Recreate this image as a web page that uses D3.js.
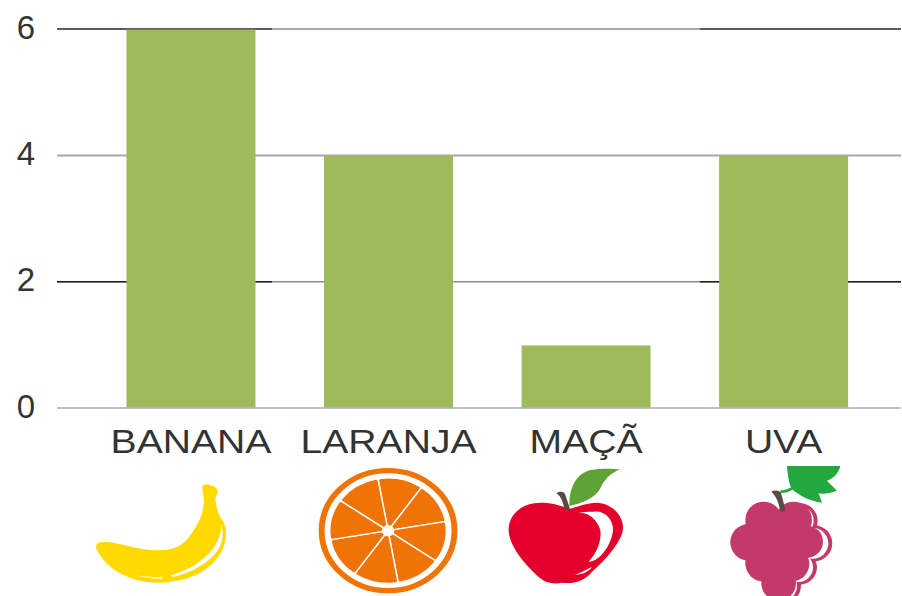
<!DOCTYPE html>
<html>
<head>
<meta charset="utf-8">
<script src="https://cdn.jsdelivr.net/npm/d3@7"></script>
<style>
html, body { margin: 0; padding: 0; background: #fff; }
svg { display: block; }
text { font-family: "Liberation Sans", sans-serif; fill: #333; }
</style>
</head>
<body>
<script>
var categories = ["BANANA", "LARANJA", "MAÇÃ", "UVA"];
var values = [6, 4, 1, 4];
var yTicks = [0, 2, 4, 6];
// ticks whose gridline prints darker at the two ends of the plot
var darkTicks = [2, 6];

var width = 902, height = 596;

var svg = d3.select("body").append("svg")
    .attr("width", width)
    .attr("height", height);

var x = d3.scaleBand()
    .domain(categories)
    .range([92.2, 882.4])
    .paddingInner(0.347)
    .paddingOuter(0.1735);

var y = d3.scaleLinear()
    .domain([0, 6])
    .range([407.6, 28.6]);

// y axis, the tick lines double as gridlines
var yAxis = svg.append("g")
    .attr("transform", "translate(57,0)")
    .call(d3.axisLeft(y).tickValues(yTicks).tickFormat(d3.format("d")).tickSize(-844).tickPadding(22));
yAxis.select(".domain").remove();
yAxis.selectAll("line")
    .attr("stroke", function (d) {
        if (d === 0) return "#c0c0c0";
        return d === 2 ? "#8c8c8c" : "#a8a8a8";
    })
    .attr("stroke-width", function (d) { return d === 2 ? 1.5 : 2; });
yAxis.selectAll("text")
    .attr("font-size", 33)
    .attr("font-family", "Liberation Sans")
    .attr("fill", "#333")
    .attr("dy", "0.29em");

// darker stretches of the gridlines
[[57, 272], [700, 901]].forEach(function (span) {
    svg.selectAll(null)
        .data(darkTicks)
        .enter().append("line")
        .attr("x1", span[0])
        .attr("x2", span[1])
        .attr("y1", function (d) { return y(d) + 0.5; })
        .attr("y2", function (d) { return y(d) + 0.5; })
        .attr("stroke", function (d) { return d === 2 ? "#1e1e1e" : "#5c5c5c"; })
        .attr("stroke-width", function (d) { return d === 2 ? 1.5 : 2; });
});

// bars
svg.selectAll(".bar")
    .data(values)
    .enter().append("rect")
    .attr("class", "bar")
    .attr("x", function (d, i) { return x(categories[i]); })
    .attr("y", function (d) { return y(d) + 1; })
    .attr("width", x.bandwidth())
    .attr("height", function (d) { return y(0) - y(d) - 1; })
    .attr("fill", "#9dbb5a");

// category labels, the picture is stretched sideways
svg.selectAll(".cat")
    .data(categories)
    .enter().append("text")
    .attr("class", "cat")
    .attr("text-anchor", "middle")
    .attr("font-size", 33)
    .attr("transform", function (d) {
        return "translate(" + (x(d) + x.bandwidth() / 2) + ",453) scale(1.185,1)";
    })
    .text(function (d) { return d; });

// fruit icons are traced in crop pixels at 3x, so each group is scaled down
function icon(name, dx) {
    return svg.append("g")
        .attr("transform", "translate(" + (x(name) + x.bandwidth() / 2 + dx) + ",460) scale(0.3333)");
}

// banana
var banana = icon("BANANA", -110.5);
banana.append("path")
    .attr("fill", "#ffd900")
    .attr("d", "M365,78 C375,68 405,76 411,90 C413,105 403,108 405,120 C408,140 412,155 418,170 C432,185 440,205 435,240 C425,300 360,365 240,368 C150,370 80,330 48,268 C42,250 55,245 75,246 C120,248 170,270 230,271 C280,272 310,255 330,225 C350,195 365,175 370,130 C372,110 365,95 365,78 Z");
banana.append("path")
    .attr("fill", "#fff")
    .attr("d", "M422,190 C426,240 385,312 272,346 L276,351 C350,335 415,290 425,240 C428,220 426,200 422,190 Z M165,345 C190,351 220,351 245,351 L245,356 C220,357 190,354 165,345 Z");

// orange, wider than it is tall like the rest of the picture
var orange = icon("LARANJA", -308.1).append("g")
    .attr("transform", "translate(923,212) scale(1.107,1)");
orange.append("circle")
    .attr("r", 180)
    .attr("fill", "none")
    .attr("stroke", "#f07306")
    .attr("stroke-width", 16);
var slices = d3.range(8);
var sliceArc = d3.arc()
    .innerRadius(0)
    .outerRadius(158)
    .cornerRadius(6);
orange.append("g")
    .selectAll("path")
    .data(slices)
    .enter().append("path")
    .attr("fill", "#f07306")
    .attr("stroke", "#fff")
    .attr("stroke-width", 4)
    .attr("d", function (i) {
        var a0 = (-10 + i * 45) * Math.PI / 180;
        return sliceArc({ startAngle: a0, endAngle: a0 + Math.PI / 4 });
    });
orange.append("circle")
    .attr("r", 17)
    .attr("fill", "#fff");

// apple
var apple = icon("MAÇÃ", -95.7);
apple.append("path")
    .attr("fill", "#e4002b")
    .attr("d", "M235,148 C200,130 150,122 110,135 C70,150 52,185 55,215 C60,265 110,320 150,355 C170,372 195,372 215,368 C250,372 280,365 305,335 C345,300 400,240 398,200 C395,160 360,130 320,128 C290,128 260,140 235,148 Z");
apple.append("path")
    .attr("fill", "#fff")
    .attr("d", "M262,160 C295,155 320,180 330,210 C335,245 315,285 295,305 C330,305 365,250 368,210 C368,175 340,150 310,155 C290,155 275,155 262,160 Z M250,345 C270,342 285,328 305,322 C295,335 275,345 250,345 Z");
apple.append("path")
    .attr("fill", "#5a4a42")
    .attr("d", "M198,100 C210,92 222,95 225,105 C230,120 235,135 240,150 L222,148 C218,125 212,110 198,100 Z");
apple.append("path")
    .attr("fill", "#5fa236")
    .attr("d", "M237,130 C238,80 260,40 300,30 C330,25 365,25 390,28 C360,40 340,60 330,85 C315,115 275,130 237,138 Z");

// grapes
var grape = icon("UVA", -293.3);
var grapeColor = "#c33a6a";
var backLumps = [[930, 182, 52], [972, 250, 54], [928, 322, 52], [880, 378, 52]];
var frontLumps = [[820, 180, 55], [910, 180, 55], [775, 247, 55], [870, 240, 90], [950, 245, 48], [820, 310, 55], [905, 312, 52], [865, 370, 52]];
grape.selectAll(".back")
    .data(backLumps)
    .enter().append("circle")
    .attr("cx", function (d) { return d[0]; })
    .attr("cy", function (d) { return d[1]; })
    .attr("r", function (d) { return d[2]; })
    .attr("fill", grapeColor);
grape.selectAll(".gap")
    .data(backLumps)
    .enter().append("circle")
    .attr("cx", function (d) { return d[0] - 4; })
    .attr("cy", function (d) { return d[1]; })
    .attr("r", function (d) { return d[2] - 8; })
    .attr("fill", "#fff");
grape.selectAll(".front")
    .data(frontLumps)
    .enter().append("circle")
    .attr("cx", function (d) { return d[0]; })
    .attr("cy", function (d) { return d[1]; })
    .attr("r", function (d) { return d[2]; })
    .attr("fill", grapeColor);
grape.append("path")
    .attr("fill", "none")
    .attr("stroke", "#22a83c")
    .attr("stroke-width", 8)
    .attr("d", "M870,95 Q890,95 905,85");
grape.append("path")
    .attr("fill", "#22a83c")
    .attr("d", "M890,18 L1050,18 C1045,40 1030,55 1010,62 L1040,92 C1020,100 1000,103 985,100 L995,128 C960,125 925,105 905,88 C895,70 892,40 890,18 Z");
grape.append("path")
    .attr("fill", "#5a4a42")
    .attr("d", "M843,95 C855,88 870,92 872,100 C878,120 882,135 885,150 L872,158 C865,130 860,110 843,95 Z");
</script>
</body>
</html>
